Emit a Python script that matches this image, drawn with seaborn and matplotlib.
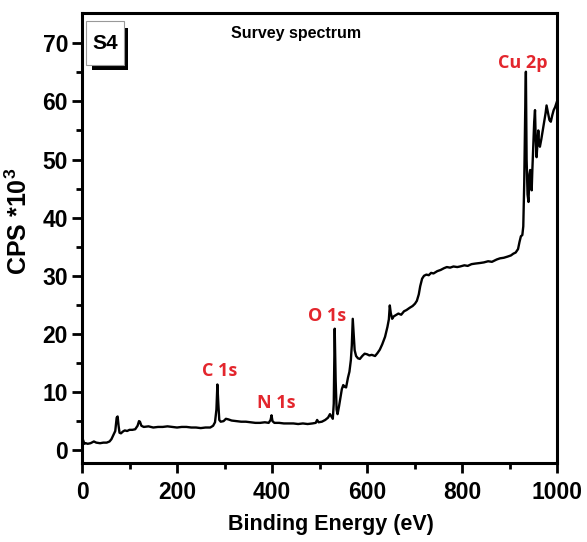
import matplotlib
matplotlib.use('Agg')
import matplotlib.pyplot as plt
from matplotlib.patches import Rectangle
import seaborn as sns
import pandas as pd

# Survey spectrum (binding energy in eV, counts in 10^3 CPS)
energy = [0, 2, 5, 8, 12, 18, 25, 30, 38, 45, 52, 58, 62, 66, 70, 73, 75, 77, 79, 82,
          86, 90, 95, 100, 106, 112, 117, 120, 122, 125, 130, 140, 150, 160, 170, 180,
          190, 200, 210, 220, 230, 240, 250, 260, 270, 276, 280, 283, 285, 287, 289,
          292, 298, 303, 308, 315, 325, 335, 345, 355, 365, 375, 385, 393, 397, 399,
          401, 405, 415, 425, 435, 445, 455, 465, 475, 485, 492, 495, 498, 505, 512,
          518, 522, 525, 528, 530, 532, 534, 536, 538, 541, 544, 547, 550, 553, 556,
          560, 563, 566, 568, 570, 572, 574, 577, 581, 585, 590, 595, 600, 605, 610,
          617, 622, 627, 632, 638, 643, 646, 648, 650, 653, 656, 660, 666, 672, 678,
          683, 690, 696, 701, 705, 709, 712, 716, 720, 725, 730, 735, 740, 748, 755,
          762, 768, 775, 782, 790, 796, 805, 812, 820, 828, 838, 846, 855, 863, 873,
          880, 888, 896, 903, 908, 913, 918, 921, 924, 927, 929, 931, 933, 934.5, 936,
          938, 940, 942, 943.5, 945, 946.7, 948, 950, 952, 953.7, 955, 957, 959, 960.6,
          962, 964, 967, 970, 973, 976, 978, 981, 984, 987, 990, 993, 996, 1000]
cps = [2.6, 1.8, 1.1, 1.2, 1.1, 1.2, 1.5, 1.3, 1.2, 1.3, 1.3, 1.5, 1.9, 2.6, 3.3, 5.6,
       5.8, 4.2, 3.0, 2.9, 3.2, 3.4, 3.3, 3.5, 3.5, 3.6, 4.2, 5.0, 4.9, 4.2, 4.0, 4.1,
       3.9, 4.0, 4.0, 4.1, 4.0, 3.9, 4.0, 4.0, 3.9, 3.9, 3.8, 3.9, 3.9, 4.2, 4.8, 7.0,
       11.3, 8.0, 5.2, 4.9, 5.0, 5.4, 5.3, 5.1, 5.0, 4.9, 4.9, 4.8, 4.7, 4.7, 4.8, 4.7,
       5.2, 6.0, 5.0, 4.7, 4.7, 4.6, 4.6, 4.6, 4.5, 4.6, 4.5, 4.6, 4.7, 5.2, 4.8, 4.9,
       5.2, 5.6, 6.2, 5.8, 5.4, 8.0, 20.9, 12.0, 7.0, 6.2, 7.5, 9.0, 10.5, 11.2, 10.9,
       10.8, 12.5, 13.5, 15.5, 18.0, 22.6, 20.0, 17.2, 16.2, 15.8, 15.7, 16.2, 16.6,
       16.5, 16.3, 16.4, 16.2, 16.7, 17.3, 18.2, 19.5, 21.2, 22.5, 24.9, 23.6, 22.6,
       23.0, 23.2, 23.5, 23.3, 23.9, 24.1, 24.5, 24.8, 25.2, 25.7, 26.8, 28.2, 29.5,
       30.0, 30.2, 30.1, 30.5, 30.4, 30.8, 31.0, 31.3, 31.5, 31.4, 31.6, 31.5, 31.6,
       31.8, 31.7, 32.0, 32.1, 32.2, 32.3, 32.5, 32.4, 32.8, 33.0, 33.1, 33.3, 33.5,
       33.8, 34.0, 34.6, 35.8, 36.8, 37.0, 38.5, 46.0, 58.0, 65.1, 50.0, 44.0, 42.7,
       47.5, 48.2, 46.0, 44.7, 48.0, 52.2, 56.5, 58.5, 54.0, 50.4, 53.0, 55.0, 53.0,
       52.2, 53.5, 55.0, 56.5, 58.0, 59.3, 58.0, 56.8, 56.5, 57.6, 58.5, 59.0, 60.0]

peak_labels = ['C 1s', 'N 1s', 'O 1s', 'Cu 2p']
peak_x = [289.5, 408, 515, 928]
peak_y = [13.6, 8.1, 23.0, 66.6]

df = pd.DataFrame({'Binding Energy': energy, 'CPS': cps})

sns.set_style('ticks')
plt.rcParams['font.family'] = ['Liberation Sans', 'DejaVu Sans']
plt.rcParams['mathtext.fontset'] = 'custom'
plt.rcParams['mathtext.bf'] = 'Liberation Sans:bold'
plt.rcParams['text.color'] = 'black'
plt.rcParams['axes.labelcolor'] = 'black'
plt.rcParams['xtick.color'] = 'black'
plt.rcParams['ytick.color'] = 'black'
plt.rcParams['axes.edgecolor'] = 'black'

fig = plt.figure(figsize=(5.87, 5.42), dpi=100)
ax = fig.add_axes([0.1397, 0.1458, 0.8092, 0.8302])

sns.lineplot(data=df, x='Binding Energy', y='CPS', ax=ax, color='black', linewidth=1.7)

ax.set_xlim(0, 1000)
ax.set_ylim(-2.2, 75.2)
ax.set_xticks([0, 200, 400, 600, 800, 1000])
ax.set_xticks([100, 300, 500, 700, 900], minor=True)
ax.set_yticks([0, 10, 20, 30, 40, 50, 60, 70])
ax.set_yticks([5, 15, 25, 35, 45, 55, 65], minor=True)
ax.tick_params(which='major', length=7, width=2, labelsize=16.5, pad=3)
ax.tick_params(axis='x', which='major', pad=6)
ax.tick_params(which='minor', length=4, width=2)
for lab in ax.get_xticklabels() + ax.get_yticklabels():
    lab.set_fontweight('bold')
for sp in ax.spines.values():
    sp.set_linewidth(2.2)
    sp.set_visible(True)

ax.set_xlabel('Binding Energy (eV)', fontsize=15.5, fontweight='bold')
ax.set_ylabel(r'CPS *10$^\mathbf{3}$', fontsize=18, fontweight='bold')
ax.xaxis.set_label_coords(0.525, -0.113)
ax.yaxis.set_label_coords(-0.105, 0.536)

# peak labels
for lab, xv, yv in zip(peak_labels, peak_x, peak_y):
    ax.text(xv, yv, lab, color='#e3262d', fontsize=13, fontweight='bold',
            family=['Open Sans', 'DejaVu Sans'], ha='center', va='center')

ax.text(0.45, 0.955, 'Survey spectrum', transform=ax.transAxes, fontsize=11.5,
        fontweight='bold', family=['Liberation Sans', 'DejaVu Sans'],
        ha='center', va='center')

# S4 box with drop shadow
ax.add_patch(Rectangle((0.021, 0.873), 0.076, 0.093, transform=ax.transAxes,
                       facecolor='black', edgecolor='none', zorder=5, clip_on=False))
ax.add_patch(Rectangle((0.0084, 0.884), 0.0796, 0.098, transform=ax.transAxes,
                       facecolor='white', edgecolor='#999999', linewidth=0.8,
                       zorder=6, clip_on=False))
ax.text(0.048, 0.933, 'S4', transform=ax.transAxes, fontsize=15, fontweight='bold',
        ha='center', va='center', zorder=7)

fig.savefig('out.png', dpi=100)
